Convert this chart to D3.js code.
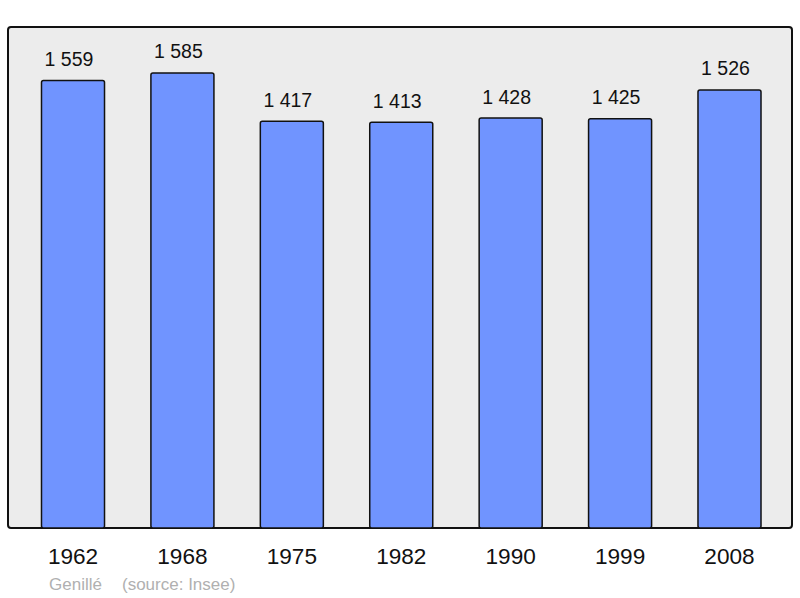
<!DOCTYPE html>
<html lang="fr">
<head>
<meta charset="utf-8">
<title>Genillé</title>
<script src="https://d3js.org/d3.v7.min.js"></script>
<style>
  body { margin: 0; background: #fff; }
  text { font-family: "Liberation Sans", Arial, sans-serif; }
</style>
</head>
<body>
<script>
// population data
var years = ["1962", "1968", "1975", "1982", "1990", "1999", "2008"];
var population = [1559, 1585, 1417, 1413, 1428, 1425, 1526];
var labels = ["1 559", "1 585", "1 417", "1 413", "1 428", "1 425", "1 526"];

var w = 800, h = 598;
var frame = {left: 8, top: 27, right: 792, bottom: 528};

var svg = d3.select("body").append("svg")
    .attr("width", w)
    .attr("height", h);

// background box
svg.append("rect")
    .attr("x", frame.left)
    .attr("y", frame.top)
    .attr("width", frame.right - frame.left)
    .attr("height", frame.bottom - frame.top)
    .attr("rx", 3)
    .attr("fill", "#ececec")
    .attr("stroke", "#111")
    .attr("stroke-width", 2);

var x = d3.scaleBand()
    .domain(years)
    .range([18.3, 784.2])
    .paddingInner(0.424)
    .paddingOuter(0.212);

var y = d3.scaleLinear()
    .domain([0, 1745])
    .range([frame.bottom, frame.top]);

var data = years.map((yr, i) => ({year: yr, value: population[i], label: labels[i]}));

svg.append("g").selectAll("rect")
    .data(data)
    .enter().append("rect")
    .attr("x", d => x(d.year))
    .attr("y", d => y(d.value))
    .attr("width", x.bandwidth())
    .attr("height", d => y(0) - y(d.value))
    .attr("rx", 2)
    .attr("fill", "#7094ff")
    .attr("stroke", "#111")
    .attr("stroke-width", 1.5);

// value labels (sit a little left of the bar centre in the original)
svg.append("g").selectAll("text")
    .data(data)
    .enter().append("text")
    .attr("x", d => x(d.year) + x.bandwidth() / 2 - 4)
    .attr("y", d => y(d.value) - 14.5)
    .attr("text-anchor", "middle")
    .attr("font-size", 19.5)
    .attr("fill", "#111")
    .text(d => d.label);

// year axis (no line, only labels)
var xAxis = d3.axisBottom(x).tickSize(0).tickPadding(0);
var gx = svg.append("g")
    .attr("transform", "translate(0," + frame.bottom + ")")
    .call(xAxis);
gx.select(".domain").remove();
gx.selectAll("text")
    .attr("y", 36)
    .attr("dy", null)
    .attr("font-size", 22.6)
    .attr("font-family", "Liberation Sans, Arial, sans-serif")
    .attr("fill", "#111");

// source
svg.append("text")
    .attr("x", 49)
    .attr("y", 590)
    .attr("font-size", 17)
    .attr("fill", "#b0b0b0")
    .text("Genillé");
svg.append("text")
    .attr("x", 122)
    .attr("y", 590)
    .attr("font-size", 17)
    .attr("fill", "#b0b0b0")
    .text("(source: Insee)");
</script>
</body>
</html>
